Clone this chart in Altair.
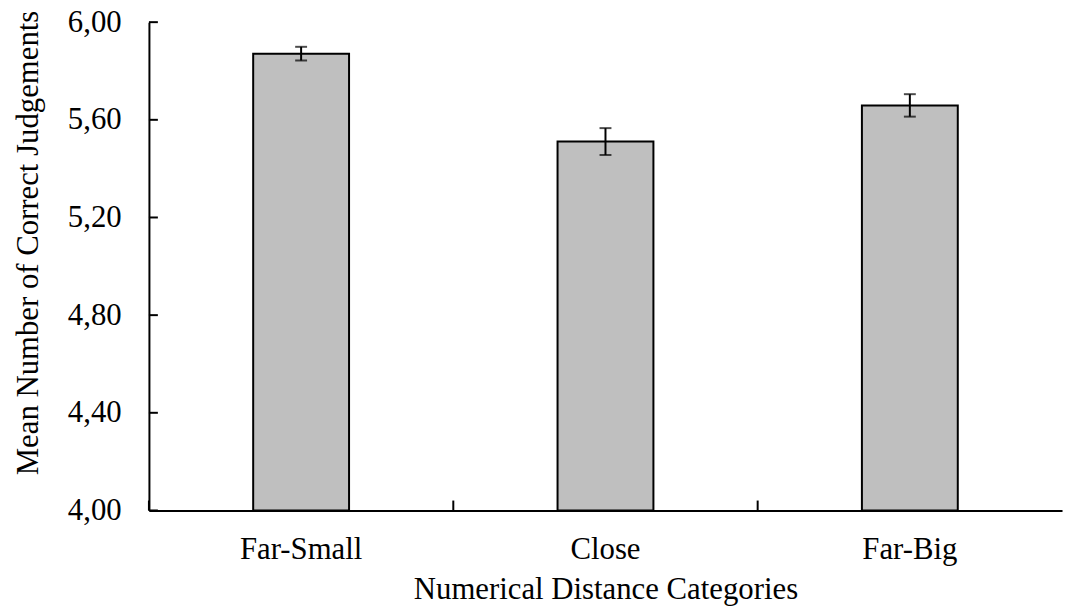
import altair as alt
import pandas as pd

categories = ["Far-Small", "Close", "Far-Big"]
means = [5.871, 5.511, 5.659]
errors = [0.028, 0.055, 0.046]
y_ticks = [4.0, 4.4, 4.8, 5.2, 5.6, 6.0]

df = pd.DataFrame({
    "category": categories,
    "mean": means,
    "lo": [m - e for m, e in zip(means, errors)],
    "hi": [m + e for m, e in zip(means, errors)],
})
tick_df = pd.DataFrame({"v": y_ticks})

FONT = "Liberation Serif"
FS = 31

xscale = alt.Scale(paddingInner=0, paddingOuter=0)
yscale = alt.Scale(domain=[4, 6], zero=False, nice=False)

xaxis = alt.Axis(title="Numerical Distance Categories", labelAngle=0,
                 tickSize=0, labelPadding=24, titlePadding=11,
                 domainColor="black", domainWidth=2,
                 labelFont=FONT, labelFontSize=FS, labelColor="black",
                 titleFont=FONT, titleFontSize=FS, titleFontWeight="normal",
                 titleColor="black")
yaxis = alt.Axis(title="Mean Number of Correct Judgements",
                 values=y_ticks,
                 labelExpr="replace(format(datum.value, '.2f'), '.', ',')",
                 tickSize=0, labelPadding=28, grid=False,
                 domainColor="black", domainWidth=2,
                 labelFont=FONT, labelFontSize=FS, labelColor="black",
                 titleFont=FONT, titleFontSize=FS, titleFontWeight="normal",
                 titleColor="black", titleX=-112, titleY=222,
                 titleBaseline="alphabetic", titleAlign="center")


def X(**kw):
    return alt.X("category:N", sort=categories, scale=xscale, axis=xaxis, **kw)


def Y(field):
    return alt.Y(field, scale=yscale, axis=yaxis)


bars = alt.Chart(df).mark_bar(
    fill="#BFBFBF", stroke="black", strokeWidth=2,
    width=alt.RelativeBandSize(0.315)
).encode(x=X(), y=Y("mean:Q"), y2=alt.datum(4.0))

err = alt.Chart(df).mark_rule(color="black", strokeWidth=2).encode(
    x=X(), y=Y("lo:Q"), y2="hi:Q",
)

caps = alt.Chart(df).transform_fold(["lo", "hi"], as_=["k", "val"]).mark_tick(
    color="black", size=12, thickness=2
).encode(x=X(), y=Y("val:Q"))

yt = alt.Chart(tick_df).mark_rule(color="black", strokeWidth=2).encode(
    y=Y("v:Q"), x=alt.value(0), x2=alt.value(9),
)

xt = alt.Chart(df).mark_rule(color="black", strokeWidth=2).encode(
    x=X(bandPosition=0), y=alt.value(482), y2=alt.value(492),
)

chart = alt.layer(bars, err, caps, yt, xt).properties(
    width=920, height=492,
    padding={"left": 142, "top": 12, "right": 4, "bottom": 95},
    autosize=alt.AutoSizeParams(type="none"),
    background="white",
).configure_view(stroke=None)

chart.save("out.html", embed_options={"renderer": "svg", "actions": False})
